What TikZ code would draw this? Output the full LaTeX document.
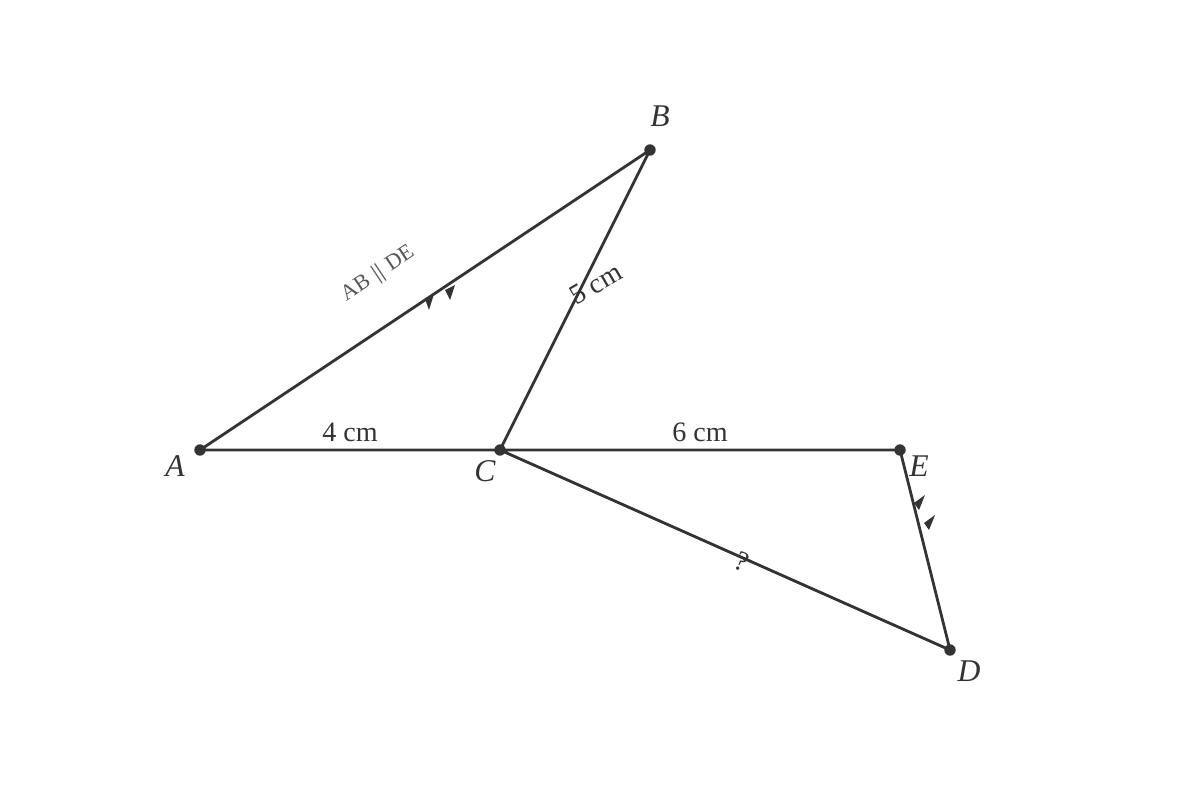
\documentclass[tikz,border=0pt]{standalone}
\usepackage{amsmath}
\usepackage{fontspec}
\setmainfont{Liberation Serif}
\usepackage{tikz}
\usetikzlibrary{positioning}
\definecolor{ink}{HTML}{333333}
\definecolor{note}{HTML}{555555}

\begin{document}
\begin{tikzpicture}[x=0.02cm,y=-0.02cm,line width=1.6pt,draw=ink]
\tikzstyle{dot} = [circle, fill=ink, inner sep=0pt, minimum size=6.5pt]
\tikzstyle{pt} = [text=ink, font=\fontsize{18}{21}\selectfont\itshape]
\tikzstyle{len} = [text=ink, font=\fontsize{16}{19}\selectfont]
\tikzstyle{tick} = [fill=ink, draw=none]
\useasboundingbox (0,0) rectangle (1200,800);
\node[dot] (A) at (200,450){};
\node[dot] (B) at (650,150){};
\node[dot] (C) at (500,450){};
\node[dot] (E) at (900,450){};
\node[dot] (D) at (950,650){};
\node[pt] at (175,466){A};
\node[pt] at (660,116){B};
\node[pt] at (485,471){C};
\node[pt] at (919,466){E};
\node[pt] at (969,671){D};
\draw[ink] (A.center)--(B.center) (B.center)--(C.center) (A.center)--(C.center)
           (C.center)--(E.center) (C.center)--(D.center) (E.center)--(D.center);
\node[len] at (350,432){4 cm};
\node[len] at (700,432){6 cm};
\node[len,rotate=30] at (596,284){5 cm};
\node[len,rotate=-24] at (742,562){?};
\node[text=note,rotate=33.7,font=\fontsize{12.5}{15}\selectfont] at (378,274){AB $\boldsymbol{\parallel}$ DE};
% parallel marks
\fill[tick] (425,299)--(434,294)--(429,310)--cycle;
\fill[tick] (445,290)--(455,285)--(450,300)--cycle;
\fill[tick] (925,495)--(914,503)--(919,510)--cycle;
\fill[tick] (935,515)--(924,523)--(929,530)--cycle;
\end{tikzpicture}
\end{document}
